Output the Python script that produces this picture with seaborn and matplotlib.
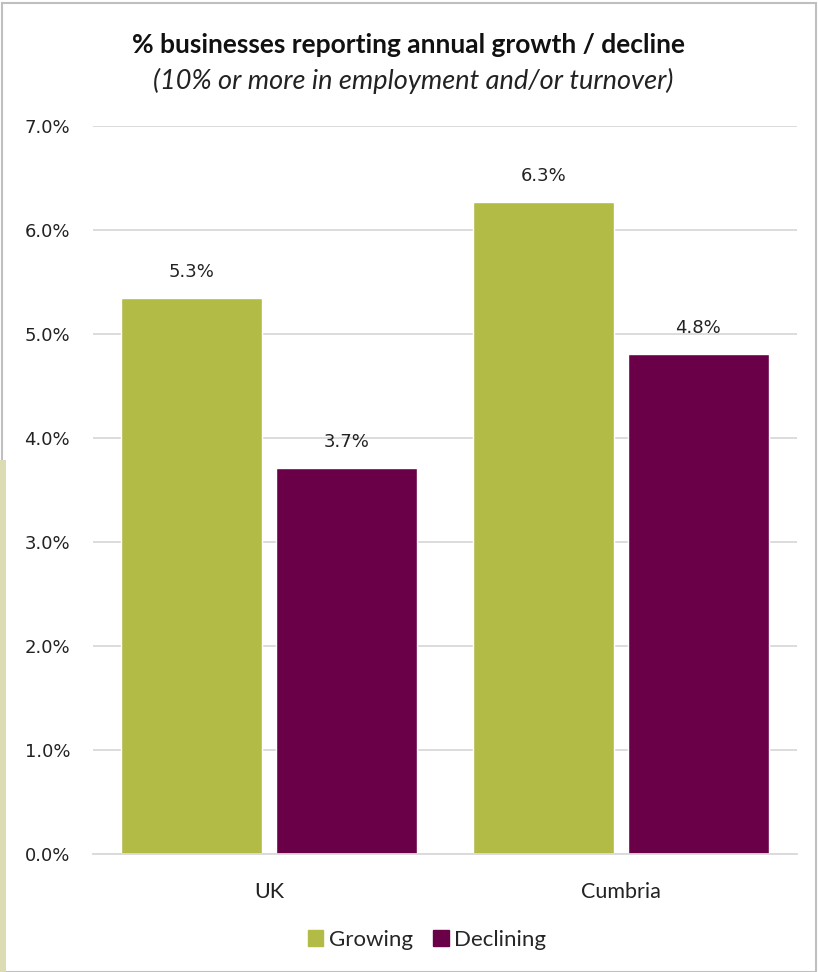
import pandas as pd
import matplotlib.pyplot as plt
import matplotlib.patches as mpatches
import seaborn as sns

# data
regions = ["UK", "Cumbria"]
series = ["Growing", "Declining"]
growing = [0.0535, 0.0627]
declining = [0.0371, 0.0481]
colors = {"Growing": "#b3bb47", "Declining": "#6a0048"}

df = pd.DataFrame({
    "Region": regions * 2,
    "Series": ["Growing"] * len(regions) + ["Declining"] * len(regions),
    "Value": growing + declining,
})

sns.set_theme(style="white")
plt.rcParams['font.family'] = ['DejaVu Sans']

fig = plt.figure(figsize=(8.18, 9.72), dpi=100)
ax = fig.add_axes([0.1137, 0.1214, 0.8606, 0.749])

sns.barplot(data=df, x="Region", y="Value", hue="Series", order=regions,
            hue_order=series, palette=colors, width=0.88, gap=0.095,
            saturation=1, ax=ax, legend=False)

for c in ax.containers:
    ax.bar_label(c, labels=[f"{v:.1%}" for v in c.datavalues], padding=12,
                 fontsize=13, color="#222222")

ax.set_ylim(0, 0.07)
ax.set_xlim(-0.5, 1.5)
ax.set_yticks([i / 100 for i in range(8)])
ax.set_yticklabels([f"{i:.1f}%" for i in range(8)], fontsize=13, color="#222222")
ax.set_xticks(range(len(regions)))
ax.set_xticklabels(regions, fontsize=15.5, family="Lato", color="#222222")
ax.tick_params(axis="y", length=0, pad=16.5)
ax.tick_params(axis="x", length=0, pad=20)
ax.set_xlabel("")
ax.set_ylabel("")
ax.yaxis.grid(True, color="#d9d9d9", linewidth=1.3)
ax.set_axisbelow(True)
for s in ["top", "right", "left"]:
    ax.spines[s].set_visible(False)
ax.spines["bottom"].set_color("#d9d9d9")
ax.spines["bottom"].set_linewidth(1.3)

fig.text(0.5, 1 - 45 / 972, "% businesses reporting annual growth / decline",
         ha="center", va="center", fontsize=19, fontweight="bold", family="Lato",
         color="#111111")
fig.text(0.505, 1 - 81 / 972, "(10% or more in employment and/or turnover)",
         ha="center", va="center", fontsize=19.5, style="italic", family="Lato",
         color="#222222")

handles = [mpatches.Patch(color=colors[s], label=s) for s in series]
fig.legend(handles=handles, loc="center", bbox_to_anchor=(0.522, 1 - 940 / 972),
           ncol=2, frameon=False, prop={"family": "Lato", "size": 16},
           handlelength=0.7, handleheight=0.7, handletextpad=0.25, columnspacing=0.9)

# frame around the chart and the beige strip at the left edge
fig.patches.append(mpatches.Rectangle((0.002, 0.0), 0.996, 0.997, transform=fig.transFigure,
                                      fill=False, edgecolor="#bfbfbf", linewidth=1.5))
fig.patches.append(mpatches.Rectangle((0.0, 0.0), 0.007, 1 - 460 / 972, transform=fig.transFigure,
                                      color="#dcdcb4", linewidth=0))

plt.savefig("out.png", dpi=100)
plt.close()
